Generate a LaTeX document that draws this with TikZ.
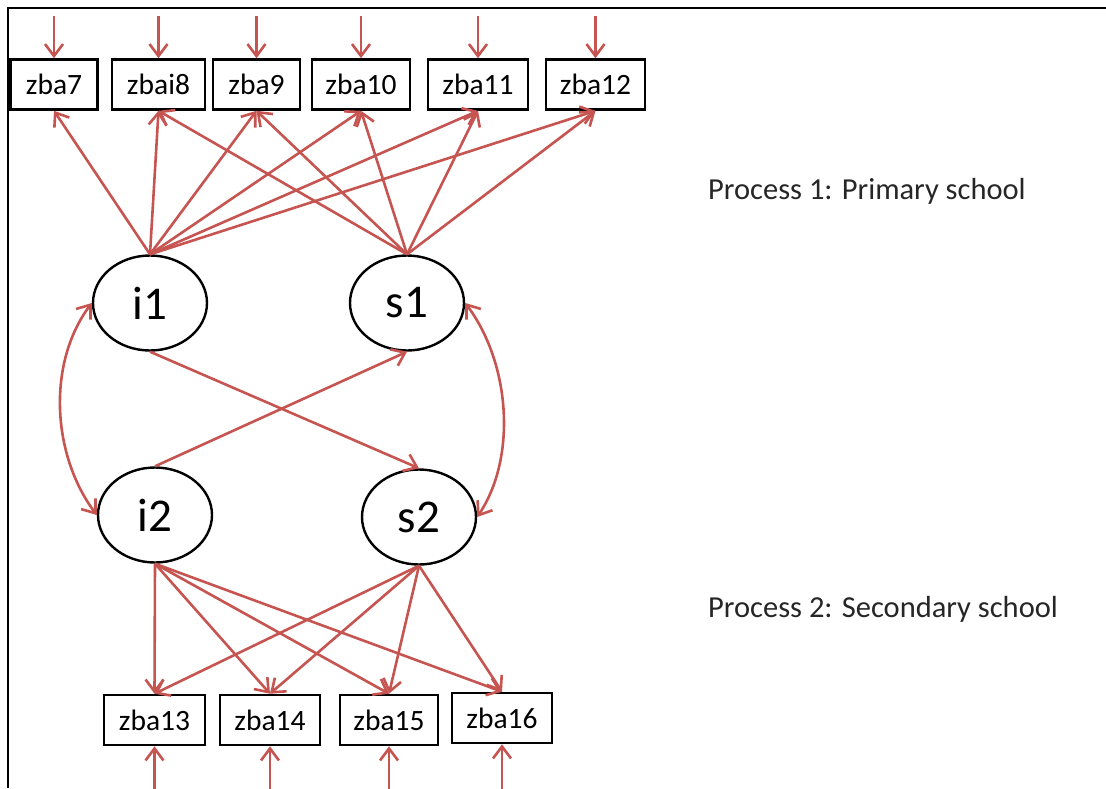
\documentclass[tikz,border=0pt]{standalone}
\usepackage{fontspec}
\setmainfont{Carlito}
\usetikzlibrary{arrows.meta,shapes.geometric}
\definecolor{arr}{RGB}{198,84,80}
\begin{document}
\begin{tikzpicture}[x=1pt,y=-1pt,
  box/.style={draw,line width=2.6pt,minimum height=50pt,inner sep=0pt,font=\fontsize{29.5}{34}\selectfont},
  lat/.style={draw,ellipse,line width=2.4pt,minimum width=114pt,minimum height=95pt,inner sep=0pt,font=\fontsize{47}{50}\selectfont},
  conn/.style={draw=arr,line width=2.6pt,-{Straight Barb[length=12pt,width=18pt]}},
  dconn/.style={draw=arr,line width=2.6pt,{Straight Barb[length=12pt,width=18pt]}-{Straight Barb[length=12pt,width=18pt]}},
  lbl/.style={anchor=base west,inner sep=0pt,font=\fontsize{30.5}{36}\selectfont,text=black!85}
]
\useasboundingbox (0,0) rectangle (1106,788);
% frame
\draw[line width=2.4pt] (8,788) -- (8,8) -- (1106,8);

% top boxes
\node[box,minimum width=87pt] (b7)  at (54,84.5)   {zba7};
\node[box,minimum width=93pt] (b8)  at (158.5,84.5) {zbai8};
\node[box,minimum width=87pt] (b9)  at (256.5,84.5) {zba9};
\node[box,minimum width=98pt] (b10) at (361,84.5)   {zba10};
\node[box,minimum width=100pt] (b11) at (478,84.5)  {zba11};
\node[box,minimum width=99pt] (b12) at (595.5,84.5) {zba12};

% bottom boxes
\node[box,minimum width=101pt] (b13) at (154.5,720) {zba13};
\node[box,minimum width=100pt] (b14) at (270,720)   {zba14};
\node[box,minimum width=98pt]  (b15) at (389,720)   {zba15};
\node[box,minimum width=100pt] (b16) at (502,718)   {zba16};

% latent variables
\node[lat] (i1) at (150,303) {i1};
\node[lat] (s1) at (407,303) {s1};
\node[lat] (i2) at (155,515) {i2};
\node[lat] (s2) at (419,517) {s2};

% labels
\node[lbl] (p1) at (708,199) {Process 1: Primary school};
\node[lbl] (p2) at (708,617) {Process 2: Secondary school};

% residual arrows (top)
\foreach \b in {b7,b8,b9,b10,b11,b12}{
  \coordinate (t\b) at ([yshift=42pt]\b.north);
  \draw[conn] (t\b) -- (\b.north);
}
% residual arrows (bottom)
\foreach \b in {b13,b14,b15}{
  \coordinate (u\b) at ([yshift=-45pt]\b.south);
  \draw[conn] (u\b) -- (\b.south);
}
\coordinate (ub16) at ([yshift=-47pt]b16.south);
\draw[conn] (ub16) -- (b16.south);

% loadings process 1
\foreach \b in {b7,b8,b9,b10,b11,b12}{
  \draw[conn] (i1.north) -- (\b.south);
}
\foreach \b in {b8,b9,b10,b11,b12}{
  \draw[conn] (s1.north) -- (\b.south);
}

% loadings process 2
\foreach \b in {b13,b14,b15,b16}{
  \draw[conn] (i2.south) -- (\b.north);
  \draw[conn] (s2.south) -- (\b.north);
}

% cross paths
\draw[conn] (i1.south) -- (s2.north);
\draw[conn] (i2.north) -- (s1.south);

% covariances
\draw[dconn] (i1.west) .. controls +(-45,60) and +(-45,-60) .. (i2.west);
\draw[dconn] (s1.east) .. controls +(45,60) and +(40,-60) .. (s2.east);
\end{tikzpicture}
\end{document}
